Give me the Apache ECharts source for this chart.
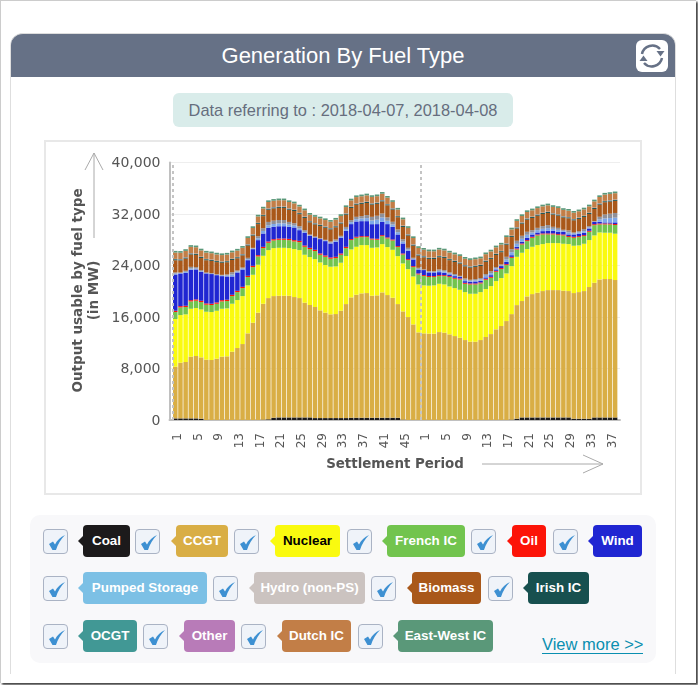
<!DOCTYPE html>
<html><head><meta charset="utf-8">
<script src="https://cdn.jsdelivr.net/npm/echarts@6/dist/echarts.min.js"></script>
<style>
html,body{margin:0;padding:0;background:#fff;width:698px;height:685px;overflow:hidden;font-family:"Liberation Sans",Arial,sans-serif}
.abs{position:absolute;box-sizing:border-box}
#frame{left:0;top:0;width:696px;height:683px;border:1px solid #ccc;border-right:none;border-bottom:none;box-shadow:2px 2px 2px #444;background:#fff}
#card{left:10px;top:33px;width:666px;height:641px;border:1px solid #dedede;border-bottom:none;border-top:none;border-radius:13px 13px 0 0}
#head{left:11px;top:33px;width:664px;height:44px;background:#667186;border-radius:12px 12px 0 0;border-top:1px solid #ddd;color:#fff;font-size:22px;line-height:44px;text-align:center;padding-right:0}
#refresh{left:636px;top:40px;width:32px;height:32px;background:#fff;border-radius:6px}
#pill{left:173px;top:93px;width:340px;height:34px;background:#d9ecea;border-radius:6px;color:#666e7e;font-size:16.4px;line-height:34px;text-align:center}
#box{left:44px;top:140px;width:598px;height:355px;border:2px solid #e8e8e8}
#panel{left:30px;top:515px;width:626px;height:148px;background:#f8f8fa;border-radius:10px}
.cb{position:absolute;width:25px;height:25px;box-sizing:border-box;background:#eff3f9;border:1px solid #aab3c4;border-radius:4px}
.chip{position:absolute;height:32px;line-height:31px;text-align:center;font-size:13.4px;font-weight:700;color:#fff;border-radius:4px}
.chip:before{content:"";position:absolute;left:-5px;top:11px;border-top:5px solid transparent;border-bottom:5px solid transparent;border-right:5px solid}
#more{left:542px;top:635px;width:101px;color:#0a8fb0;font-size:16.5px;line-height:18px;border-bottom:1px solid #0a8fb0;white-space:nowrap}
#chart{left:0;top:0;width:698px;height:685px}
</style></head><body>
<div class="abs" id="frame"></div>
<div class="abs" id="card"></div>
<div class="abs" id="head">Generation By Fuel Type</div>
<div class="abs" id="refresh"><svg width="32" height="32" viewBox="0 0 32 32"><g fill="none" stroke="#667186" stroke-width="2.500"><path d="M6 14a10.500 10.500 0 0 1 18-5"/><path d="M26 18a10.500 10.500 0 0 1-18 5"/></g><path d="M20.500 11h8l-4 5.500z" fill="#667186"/><path d="M3.500 21h8l-4-5.500z" fill="#667186"/></svg></div>
<div class="abs" id="pill">Data referring to : 2018-04-07, 2018-04-08</div>
<div class="abs" id="box"></div>
<div class="abs" id="panel"></div>
<div id="legend"></div>
<div class="abs" id="more">View more &gt;&gt;</div>
<div class="abs" id="chart"></div>
<script>
const dayOnePeriods=[1,2,3,4,5,6,7,8,9,10,11,12,13,14,15,16,17,18,19,20,21,22,23,24,25,26,27,28,29,30,31,32,33,34,35,36,37,38,39,40,41,42,43,44,45,46,47,48];
const dayTwoPeriods=[1,2,3,4,5,6,7,8,9,10,11,12,13,14,15,16,17,18,19,20,21,22,23,24,25,26,27,28,29,30,31,32,33,34,35,36,37,38];
const yTicks=[0,8000,16000,24000,32000,40000];
const dayStarts=[0,48];
const fuelNames=["Coal","CCGT","Nuclear","French IC","Oil","Wind","Pumped Storage","Hydro (non-PS)","Biomass","Irish IC","OCGT","Other","Dutch IC","East-West IC"];
const fuelColors=["#1c1a1b","#d9ae45","#fafa0f","#72c44e","#fc1408","#2026d2","#7fa8e8","#8f9099","#a9581a","#17504f","#419895","#b87bb8","#c27e47","#5a9879"];
const chipColors=["#1c1a1b","#d9ae45","#fafa0f","#72c44e","#fc1408","#2026d2","#7cc0e5","#cbc3c0","#a9581a","#17504f","#419895","#b87bb8","#c27e47","#5a9879"];
const coal=[250,250,250,250,250,200,0,0,0,0,0,0,0,0,0,0,0,50,100,350,400,400,400,400,400,400,400,300,300,300,300,300,300,300,350,350,350,350,350,350,350,350,350,350,50,0,0,0,0,0,0,0,0,0,0,0,0,0,0,0,0,0,0,0,0,50,200,400,400,400,400,400,400,400,400,400,400,200,200,200,200,400,400,400,400,400];
const ccgt=[8030,8650,8760,9580,9690,9530,9370,9320,9520,9830,9890,10610,11180,11800,13460,15110,16670,18010,18840,18900,18900,18900,18900,18700,18540,17820,17460,17250,16730,16370,16110,16160,16680,17710,18700,19110,19320,19370,18950,19010,19470,19060,18640,17660,16820,15990,14850,13610,13460,13410,13410,13660,13560,13300,13040,12780,12420,12160,12160,12420,12890,13350,14080,14600,15370,16400,17650,18080,18800,19160,19370,19630,19780,19780,19780,19680,19630,19520,19670,19830,20450,20920,21440,21490,21490,21340];
const nuclear=[7400,7400,7400,7450,7450,7450,7450,7450,7450,7450,7450,7450,7450,7450,7450,7450,7450,7450,7450,7450,7450,7450,7400,7450,7450,7450,7450,7450,7450,7400,7400,7400,7450,7450,7450,7450,7500,7450,7450,7450,7500,7450,7450,7450,7450,7450,7450,7450,7450,7450,7500,7500,7500,7450,7450,7450,7450,7450,7450,7450,7450,7450,7500,7450,7400,7450,7500,7500,7350,7350,7400,7300,7300,7300,7300,7300,7300,7350,7250,7350,7300,7350,7300,7200,7200,7200];
const frenchIC=[1090,1190,1140,1140,1140,1140,1090,1090,1090,1140,1140,1190,1240,1240,1290,1190,1290,1190,1140,1190,1240,1240,1240,1190,1240,1240,1240,1240,1190,1290,1240,1290,1240,1240,1450,1400,1240,1240,1290,1190,1240,1350,1450,1400,1400,1400,1450,1550,1450,1350,1290,1190,1290,1450,1450,1600,1290,1450,1450,1350,1450,1290,1450,1400,1290,1290,1140,1290,1240,1400,1500,1500,1350,1350,1240,1290,1090,1240,1290,1190,1290,1600,1240,1290,1290,1350];
const oil=[200,200,200,200,200,200,200,200,200,200,200,200,200,200,200,200,200,200,200,200,200,200,200,200,200,200,200,200,200,200,200,200,200,200,150,150,150,150,150,150,150,150,150,150,150,150,150,150,150,150,150,150,150,150,150,150,150,150,150,150,150,150,150,150,150,150,150,150,150,150,150,150,150,150,150,150,150,150,150,150,150,150,150,150,150,150];
const wind=[5640,5070,5120,4710,4660,4500,4660,4610,4240,3730,3620,2850,2850,2690,2430,2590,2330,2070,2120,1910,1910,1910,1860,1970,1660,1970,1860,1910,2230,2230,2170,2330,2430,2480,2330,2380,2330,2330,2230,2280,2070,2070,1970,1810,1550,1290,1040,620,780,570,570,470,360,260,260,260,260,260,310,260,210,260,210,310,360,260,260,260,360,360,310,360,410,410,360,410,260,360,360,360,360,360,260,160,160,260];
const pumped=[150,100,150,200,150,100,50,50,50,100,150,300,150,150,150,100,300,400,400,450,450,450,350,300,250,150,100,50,50,100,150,150,150,300,310,360,420,470,570,680,680,520,360,360,310,210,100,100,50,100,100,210,210,160,160,50,210,160,160,210,260,310,160,100,360,470,470,470,470,310,360,360,420,310,310,160,310,160,210,260,160,50,360,620,680,730];
const hydro=[160,50,160,260,210,160,100,100,100,100,160,360,160,160,210,100,310,420,520,520,520,520,420,360,360,260,100,100,100,100,160,210,160,310,310,360,360,470,570,620,620,520,420,420,360,260,160,160,50,100,100,210,210,160,160,100,210,160,210,210,260,310,210,160,420,470,470,470,470,360,360,420,470,310,310,160,310,160,210,310,210,50,420,620,680,730];
const biomass=[1900,1880,1900,1920,1900,1880,1900,1900,1880,1880,1900,1900,1900,1880,1900,1900,1880,1880,1900,1900,1880,1880,1900,1900,1880,1900,1900,1880,1880,1880,1880,1900,1900,1900,1880,1880,1900,1880,1900,1850,1880,1880,1900,1900,1900,1900,1880,1900,1880,1900,1900,1900,1880,1900,1880,1900,1880,1880,1900,1880,1900,1880,1880,1900,1880,1880,1900,1880,1880,1900,1880,1880,1880,1900,1900,1900,1880,1880,1900,1880,1880,1900,1880,1900,1880,1880];
const irishIC=[150,150,150,150,150,150,150,150,150,150,150,150,150,150,150,150,150,150,150,150,150,150,150,150,150,150,150,150,150,150,150,150,150,150,150,150,150,150,150,150,150,150,150,150,150,150,150,150,150,150,150,150,150,150,150,150,150,150,150,150,150,150,150,150,150,150,150,150,150,150,150,150,150,150,150,150,150,150,150,150,150,150,150,150,150,150];
const ocgt=[30,30,30,30,30,30,30,30,30,30,30,30,30,30,30,30,30,30,30,30,30,30,30,30,30,30,30,30,30,30,30,30,30,30,30,30,30,30,30,30,30,30,30,30,30,30,30,30,30,30,30,30,30,30,30,30,30,30,30,30,30,30,30,30,30,30,30,30,30,30,30,30,30,30,30,30,30,30,30,30,30,30,30,30,30,30];
const other=[30,30,30,30,30,30,30,30,30,30,30,30,30,30,30,30,30,30,30,30,30,30,30,30,30,30,30,30,30,30,30,30,30,30,30,30,30,30,30,30,30,30,30,30,30,30,30,30,30,30,30,30,30,30,30,30,30,30,30,30,30,30,30,30,30,30,30,30,30,30,30,30,30,30,30,30,30,30,30,30,30,30,30,30,30,30];
const dutchIC=[980,980,980,980,980,980,980,980,980,980,980,980,980,980,980,980,980,980,980,980,980,980,980,980,980,980,980,980,980,980,980,980,980,980,980,980,980,980,980,980,980,980,980,980,980,980,980,980,980,980,980,980,980,980,980,980,980,980,980,980,980,980,980,980,980,980,980,980,980,980,980,980,980,980,980,980,980,980,980,980,980,980,980,980,980,980];
const eastWestIC=[260,260,260,260,260,260,260,260,260,260,260,260,260,260,260,260,260,260,260,260,260,260,260,260,260,260,260,260,260,260,260,260,260,260,260,260,260,260,260,260,260,260,260,260,260,260,260,260,260,260,260,260,260,260,260,260,260,260,260,260,260,260,260,260,260,260,260,260,260,260,260,260,260,260,260,260,260,260,260,260,260,260,260,260,260,260];
const fuelValues=[coal,ccgt,nuclear,frenchIC,oil,wind,pumped,hydro,biomass,irishIC,ocgt,other,dutchIC,eastWestIC];

// legend chrome: [row top, checkbox x, chip x, chip width]
const chipPlace=[[525,43,83,47],[525,135,176,52],[525,234,275,65],[525,347,387,78],[525,471,512,34],[525,553,593,49],[572,43,83,124],[572,213,254,111],[572,371,412,69],[572,488,528,61],[620,43,83,54],[620,143,184,51],[620,241,282,69],[620,358,398,95]];
const lg=document.getElementById('legend');
let arrowCss='';
fuelNames.forEach((n,i)=>{
  const [t,cx,x,w]=chipPlace[i];
  const cb=document.createElement('div');cb.className='cb';cb.style.left=cx+'px';cb.style.top=(t+4)+'px';
  cb.innerHTML='<svg width="23" height="23" viewBox="0 0 23 23" style="display:block"><path d="M5 14l4-2.500 2 3c2-4 5.500-7.500 10-9.500-4 4-7.500 9.500-9 15h-3.500z" fill="#3d90d2"/></svg>';
  const ch=document.createElement('div');ch.className='chip c'+i;ch.textContent=n;
  ch.style.cssText=`left:${x}px;top:${t}px;width:${w}px;background:${chipColors[i]};color:${n==='Nuclear'?'#000':'#fff'}`;
  arrowCss+=`.c${i}:before{border-right-color:${chipColors[i]}}`;
  lg.appendChild(cb);lg.appendChild(ch);
});
const st=document.createElement('style');st.textContent=arrowCss;document.head.appendChild(st);

const cats=dayOnePeriods.concat(dayTwoPeriods).map(String);
const top0=162.5,bottom0=265;
const chart=echarts.init(document.getElementById('chart'),null,{renderer:'canvas'});
const axisFont='"DejaVu Sans",Verdana,sans-serif';
const series=fuelNames.map((n,i)=>({name:n,type:'bar',stack:'gen',xAxisIndex:1,yAxisIndex:1,barWidth:4.5,data:fuelValues[i],itemStyle:{color:fuelColors[i]},animation:false}));
series.push({type:'line',xAxisIndex:2,yAxisIndex:1,data:[],silent:true,markLine:{silent:true,symbol:'none',label:{show:false},animation:false,lineStyle:{type:[3,3],color:'#c4c4c4',width:2},data:dayStarts.map(d=>({xAxis:d}))}});
chart.setOption({
  animation:false,
  backgroundColor:'transparent',
  grid:[
    {left:169.5,right:78,top:top0,bottom:bottom0},
    {left:172.7,width:445,top:top0,bottom:bottom0},
    {left:175.2,width:445,top:top0+1,bottom:bottom0-1}
  ],
  xAxis:[
    {gridIndex:0,type:'value',min:0,max:1,show:true,axisLabel:{show:false},axisTick:{show:false},splitLine:{show:false},axisLine:{show:true,lineStyle:{color:'#c0c0c0',width:2}}},
    {gridIndex:1,type:'category',data:cats,axisLine:{show:false},axisTick:{show:false},splitLine:{show:false},axisLabel:{show:false}},
    {gridIndex:1,type:'value',min:0,max:86,show:false},
    {gridIndex:2,type:'category',data:cats,axisLine:{show:false},axisTick:{show:false},splitLine:{show:false},
      axisLabel:{interval:3,rotate:90,margin:12,fontFamily:axisFont,fontSize:12,color:'#555'}}
  ],
  yAxis:[
    {gridIndex:0,type:'value',min:0,max:40000,interval:8000,axisLine:{show:true,lineStyle:{color:'#c0c0c0',width:2}},axisTick:{show:false},
      splitLine:{lineStyle:{color:'#eeeeee',width:1}},axisLabel:{show:false}},
    {gridIndex:1,type:'value',min:0,max:40000,show:false},
    {gridIndex:2,type:'value',min:0,max:40000,interval:8000,position:'left',offset:5.7,axisLine:{show:false},axisTick:{show:false},splitLine:{show:false},
      axisLabel:{margin:9,fontFamily:axisFont,fontSize:14,color:'#555',formatter:v=>yTicks.includes(v)?v.toLocaleString('en-US'):''}}
  ],
  series,
  graphic:[
    {type:'text',rotation:Math.PI/2,x:86.5,y:290.5,style:{text:'Output usable by fuel type\n(in MW)',fill:'#555',font:'bold 13.500px '+axisFont,align:'center',verticalAlign:'middle',lineHeight:16.5}},
    {type:'text',x:395,y:465,style:{text:'Settlement Period',fill:'#555',font:'bold 13.400px '+axisFont,align:'center',verticalAlign:'middle'}},
    {type:'polyline',shape:{points:[[94,238],[94,153]]},style:{stroke:'#aaa',lineWidth:1,fill:null}},
    {type:'polyline',shape:{points:[[85,170],[94,153],[103,170]]},style:{stroke:'#aaa',lineWidth:1,fill:null}},
    {type:'polyline',shape:{points:[[482,464],[603,464]]},style:{stroke:'#aaa',lineWidth:1,fill:null}},
    {type:'polyline',shape:{points:[[583,455],[603,464],[583,473]]},style:{stroke:'#aaa',lineWidth:1,fill:null}}
  ]
});
</script>
</body></html>
